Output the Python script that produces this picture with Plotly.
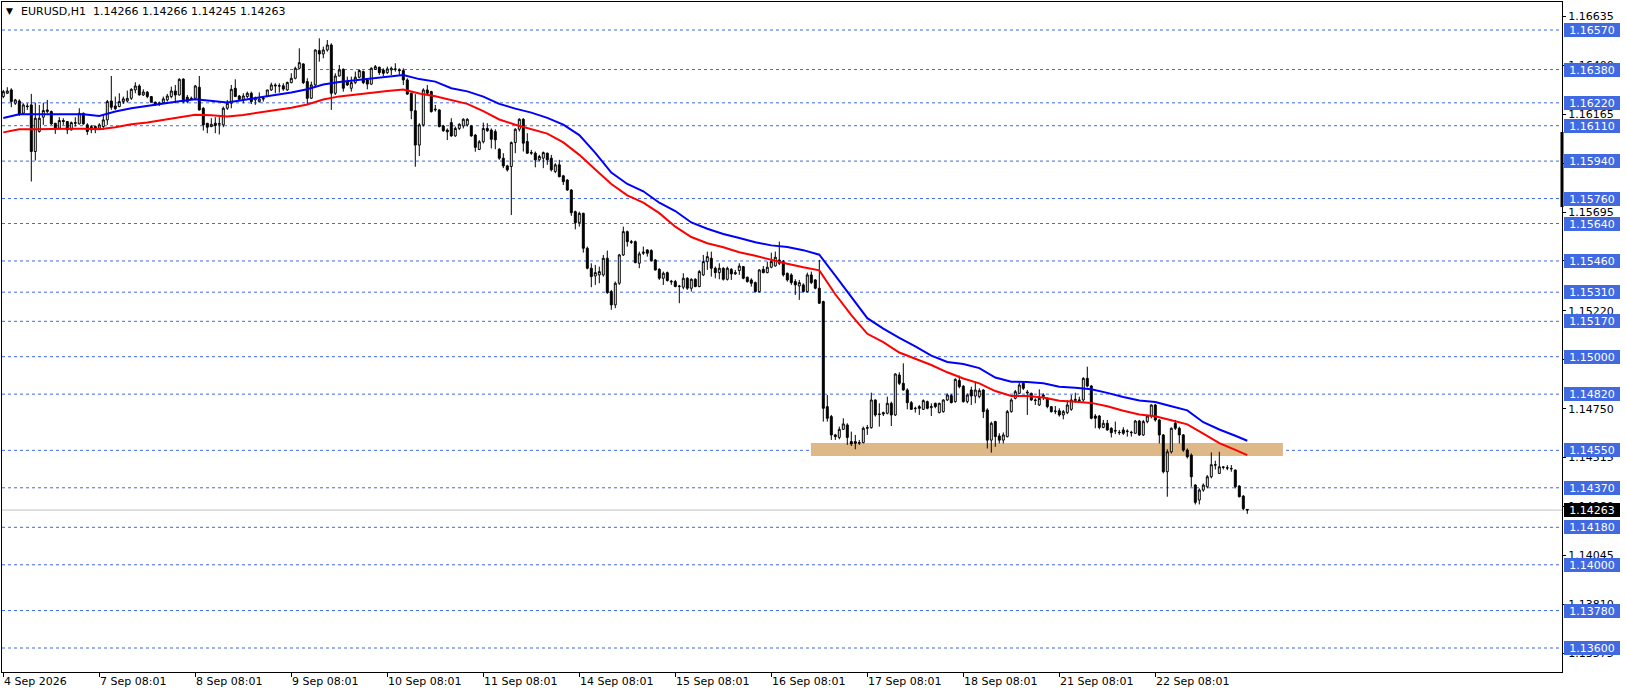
import plotly.graph_objects as go

# ---------------- data (EURUSD H1) ----------------
open_prices = [
    1.16250, 1.16266, 1.16282, 1.16218, 1.16229, 1.16170, 1.16205, 1.16210, 1.15986, 1.16082, 1.16151, 1.16178,
    1.16178, 1.16122, 1.16098, 1.16135, 1.16130, 1.16090, 1.16125, 1.16119, 1.16170, 1.16114, 1.16090, 1.16106,
    1.16098, 1.16106, 1.16138, 1.16229, 1.16205, 1.16202, 1.16226, 1.16229, 1.16242, 1.16282, 1.16301, 1.16258,
    1.16271, 1.16250, 1.16223, 1.16215, 1.16221, 1.16234, 1.16250, 1.16277, 1.16258, 1.16334, 1.16247, 1.16242,
    1.16242, 1.16295, 1.16194, 1.16122, 1.16106, 1.16122, 1.16117, 1.16114, 1.16194, 1.16218, 1.16290, 1.16253,
    1.16237, 1.16250, 1.16266, 1.16234, 1.16226, 1.16238, 1.16250, 1.16282, 1.16306, 1.16302, 1.16302, 1.16282,
    1.16317, 1.16338, 1.16386, 1.16407, 1.16322, 1.16242, 1.16306, 1.16471, 1.16455, 1.16474, 1.16498, 1.16266,
    1.16349, 1.16381, 1.16322, 1.16290, 1.16317, 1.16343, 1.16370, 1.16330, 1.16310, 1.16381, 1.16391, 1.16378,
    1.16365, 1.16378, 1.16383, 1.16378, 1.16375, 1.16330, 1.16266, 1.16182, 1.16017, 1.16114, 1.16282, 1.16274,
    1.16186, 1.16186, 1.16109, 1.16089, 1.16125, 1.16061, 1.16097, 1.16109, 1.16114, 1.16109, 1.16065, 1.15996,
    1.16033, 1.16097, 1.16089, 1.16082, 1.15997, 1.15954, 1.15917, 1.15914, 1.16029, 1.16093, 1.16141, 1.16034,
    1.15978, 1.15978, 1.15946, 1.15954, 1.15978, 1.15954, 1.15890, 1.15922, 1.15869, 1.15849, 1.15801, 1.15697,
    1.15644, 1.15689, 1.15521, 1.15425, 1.15388, 1.15393, 1.15393, 1.15473, 1.15313, 1.15249, 1.15353, 1.15489,
    1.15601, 1.15553, 1.15553, 1.15449, 1.15497, 1.15513, 1.15510, 1.15465, 1.15420, 1.15377, 1.15404, 1.15363,
    1.15361, 1.15337, 1.15334, 1.15377, 1.15329, 1.15372, 1.15337, 1.15393, 1.15457, 1.15473, 1.15425, 1.15404,
    1.15425, 1.15372, 1.15420, 1.15398, 1.15414, 1.15433, 1.15382, 1.15369, 1.15356, 1.15313, 1.15420, 1.15404,
    1.15430, 1.15436, 1.15465, 1.15457, 1.15401, 1.15393, 1.15361, 1.15340, 1.15345, 1.15313, 1.15393, 1.15369,
    1.15329, 1.15265, 1.14760, 1.14712, 1.14624, 1.14612, 1.14651, 1.14672, 1.14592, 1.14592, 1.14584, 1.14587,
    1.14656, 1.14659, 1.14792, 1.14725, 1.14731, 1.14728, 1.14776, 1.14720, 1.14912, 1.14872, 1.14840, 1.14779,
    1.14750, 1.14760, 1.14747, 1.14784, 1.14755, 1.14776, 1.14731, 1.14736, 1.14792, 1.14813, 1.14784, 1.14885,
    1.14858, 1.14784, 1.14840, 1.14811, 1.14808, 1.14840, 1.14744, 1.14599, 1.14688, 1.14619, 1.14599, 1.14616,
    1.14736, 1.14800, 1.14824, 1.14872, 1.14830, 1.14824, 1.14792, 1.14768, 1.14808, 1.14800, 1.14760, 1.14736,
    1.14740, 1.14720, 1.14731, 1.14747, 1.14789, 1.14792, 1.14792, 1.14896, 1.14859, 1.14715, 1.14715, 1.14660,
    1.14680, 1.14656, 1.14645, 1.14637, 1.14648, 1.14640, 1.14637, 1.14632, 1.14691, 1.14624, 1.14688, 1.14715,
    1.14768, 1.14696, 1.14624, 1.14447, 1.14543, 1.14680, 1.14656, 1.14624, 1.14551, 1.14527, 1.14383, 1.14311,
    1.14359, 1.14375, 1.14423, 1.14481, 1.14439, 1.14468, 1.14466, 1.14463, 1.14455, 1.14378, 1.14330, 1.14266,
]
high_prices = [
    1.16282, 1.16295, 1.16290, 1.16239, 1.16237, 1.16218, 1.16218, 1.16263, 1.16221, 1.16210, 1.16221, 1.16234,
    1.16183, 1.16122, 1.16151, 1.16146, 1.16130, 1.16130, 1.16151, 1.16194, 1.16173, 1.16122, 1.16114, 1.16111,
    1.16122, 1.16162, 1.16234, 1.16349, 1.16250, 1.16266, 1.16250, 1.16279, 1.16290, 1.16319, 1.16309, 1.16285,
    1.16277, 1.16253, 1.16226, 1.16226, 1.16250, 1.16263, 1.16298, 1.16306, 1.16338, 1.16338, 1.16258, 1.16250,
    1.16306, 1.16349, 1.16199, 1.16122, 1.16146, 1.16151, 1.16151, 1.16202, 1.16234, 1.16306, 1.16333, 1.16258,
    1.16266, 1.16274, 1.16274, 1.16250, 1.16270, 1.16250, 1.16282, 1.16317, 1.16314, 1.16314, 1.16314, 1.16322,
    1.16362, 1.16394, 1.16482, 1.16410, 1.16338, 1.16322, 1.16477, 1.16530, 1.16490, 1.16522, 1.16506, 1.16362,
    1.16402, 1.16386, 1.16346, 1.16346, 1.16370, 1.16381, 1.16375, 1.16338, 1.16391, 1.16402, 1.16394, 1.16386,
    1.16394, 1.16394, 1.16410, 1.16386, 1.16386, 1.16338, 1.16269, 1.16262, 1.16122, 1.16290, 1.16306, 1.16278,
    1.16210, 1.16189, 1.16114, 1.16097, 1.16146, 1.16106, 1.16122, 1.16146, 1.16146, 1.16114, 1.16070, 1.16041,
    1.16125, 1.16122, 1.16097, 1.16093, 1.16002, 1.15978, 1.15922, 1.16034, 1.16098, 1.16146, 1.16146, 1.16074,
    1.15994, 1.15986, 1.15970, 1.15986, 1.15981, 1.15970, 1.15930, 1.15946, 1.15874, 1.15853, 1.15805, 1.15702,
    1.15697, 1.15692, 1.15529, 1.15449, 1.15441, 1.15433, 1.15489, 1.15510, 1.15321, 1.15361, 1.15494, 1.15625,
    1.15606, 1.15561, 1.15558, 1.15505, 1.15529, 1.15516, 1.15516, 1.15468, 1.15425, 1.15409, 1.15409, 1.15369,
    1.15369, 1.15345, 1.15401, 1.15382, 1.15377, 1.15377, 1.15417, 1.15489, 1.15505, 1.15505, 1.15433, 1.15449,
    1.15430, 1.15433, 1.15425, 1.15417, 1.15449, 1.15436, 1.15385, 1.15377, 1.15361, 1.15420, 1.15436, 1.15457,
    1.15500, 1.15505, 1.15553, 1.15465, 1.15404, 1.15401, 1.15372, 1.15369, 1.15353, 1.15404, 1.15409, 1.15372,
    1.15465, 1.15269, 1.14816, 1.14720, 1.14629, 1.14664, 1.14704, 1.14680, 1.14640, 1.14624, 1.14600, 1.14664,
    1.14672, 1.14827, 1.14795, 1.14776, 1.14736, 1.14808, 1.14784, 1.14920, 1.14925, 1.14968, 1.14848, 1.14787,
    1.14760, 1.14768, 1.14795, 1.14789, 1.14776, 1.14779, 1.14779, 1.14795, 1.14824, 1.14821, 1.14896, 1.14909,
    1.14864, 1.14824, 1.14856, 1.14880, 1.14848, 1.14843, 1.14752, 1.14688, 1.14692, 1.14632, 1.14636, 1.14744,
    1.14800, 1.14840, 1.14875, 1.14880, 1.14840, 1.14827, 1.14800, 1.14843, 1.14824, 1.14804, 1.14763, 1.14763,
    1.14752, 1.14744, 1.14792, 1.14816, 1.14827, 1.14808, 1.14901, 1.14952, 1.14864, 1.14724, 1.14720, 1.14696,
    1.14696, 1.14661, 1.14688, 1.14648, 1.14661, 1.14651, 1.14644, 1.14696, 1.14696, 1.14696, 1.14720, 1.14771,
    1.14773, 1.14699, 1.14628, 1.14555, 1.14660, 1.14696, 1.14664, 1.14628, 1.14559, 1.14535, 1.14388, 1.14367,
    1.14391, 1.14431, 1.14540, 1.14500, 1.14543, 1.14474, 1.14479, 1.14479, 1.14458, 1.14383, 1.14335, 1.14266,
]
low_prices = [
    1.16242, 1.16263, 1.16199, 1.16210, 1.16157, 1.16162, 1.16186, 1.15842, 1.15943, 1.16077, 1.16114, 1.16170,
    1.16114, 1.16071, 1.16093, 1.16114, 1.16070, 1.16087, 1.16106, 1.16116, 1.16114, 1.16066, 1.16074, 1.16074,
    1.16090, 1.16090, 1.16114, 1.16186, 1.16186, 1.16199, 1.16215, 1.16221, 1.16234, 1.16266, 1.16255, 1.16253,
    1.16242, 1.16221, 1.16205, 1.16205, 1.16215, 1.16226, 1.16242, 1.16218, 1.16255, 1.16218, 1.16218, 1.16234,
    1.16234, 1.16183, 1.16087, 1.16074, 1.16103, 1.16074, 1.16068, 1.16103, 1.16186, 1.16194, 1.16250, 1.16231,
    1.16218, 1.16242, 1.16214, 1.16210, 1.16221, 1.16226, 1.16250, 1.16277, 1.16266, 1.16269, 1.16278, 1.16278,
    1.16314, 1.16333, 1.16381, 1.16310, 1.16214, 1.16238, 1.16298, 1.16418, 1.16434, 1.16466, 1.16186, 1.16258,
    1.16346, 1.16274, 1.16301, 1.16274, 1.16310, 1.16338, 1.16310, 1.16285, 1.16306, 1.16378, 1.16354, 1.16349,
    1.16359, 1.16354, 1.16370, 1.16354, 1.16306, 1.16258, 1.16141, 1.15913, 1.15964, 1.16106, 1.16258, 1.16173,
    1.16178, 1.16102, 1.16081, 1.16041, 1.16057, 1.16057, 1.16089, 1.16097, 1.16106, 1.16057, 1.15985, 1.15993,
    1.16025, 1.16081, 1.16001, 1.15997, 1.15946, 1.15906, 1.15890, 1.15681, 1.15978, 1.16082, 1.15986, 1.15974,
    1.15970, 1.15910, 1.15938, 1.15906, 1.15922, 1.15890, 1.15882, 1.15862, 1.15825, 1.15797, 1.15677, 1.15612,
    1.15625, 1.15500, 1.15420, 1.15334, 1.15345, 1.15353, 1.15385, 1.15302, 1.15225, 1.15233, 1.15345, 1.15484,
    1.15529, 1.15542, 1.15449, 1.15425, 1.15489, 1.15481, 1.15457, 1.15414, 1.15369, 1.15345, 1.15361, 1.15345,
    1.15334, 1.15257, 1.15324, 1.15321, 1.15313, 1.15334, 1.15334, 1.15388, 1.15417, 1.15385, 1.15377, 1.15372,
    1.15366, 1.15366, 1.15369, 1.15393, 1.15393, 1.15372, 1.15356, 1.15337, 1.15308, 1.15308, 1.15401, 1.15401,
    1.15425, 1.15433, 1.15440, 1.15385, 1.15361, 1.15345, 1.15297, 1.15273, 1.15308, 1.15308, 1.15349, 1.15324,
    1.15253, 1.14688, 1.14688, 1.14600, 1.14600, 1.14603, 1.14648, 1.14576, 1.14571, 1.14555, 1.14576, 1.14584,
    1.14624, 1.14654, 1.14712, 1.14664, 1.14715, 1.14723, 1.14667, 1.14715, 1.14864, 1.14837, 1.14747, 1.14744,
    1.14731, 1.14720, 1.14744, 1.14747, 1.14715, 1.14752, 1.14728, 1.14731, 1.14787, 1.14776, 1.14779, 1.14848,
    1.14779, 1.14776, 1.14768, 1.14776, 1.14800, 1.14705, 1.14559, 1.14539, 1.14567, 1.14583, 1.14583, 1.14612,
    1.14731, 1.14795, 1.14820, 1.14840, 1.14720, 1.14788, 1.14768, 1.14763, 1.14792, 1.14752, 1.14731, 1.14724,
    1.14712, 1.14699, 1.14724, 1.14740, 1.14779, 1.14784, 1.14784, 1.14853, 1.14699, 1.14656, 1.14651, 1.14656,
    1.14644, 1.14612, 1.14628, 1.14624, 1.14624, 1.14616, 1.14616, 1.14629, 1.14619, 1.14619, 1.14680, 1.14704,
    1.14688, 1.14583, 1.14439, 1.14327, 1.14535, 1.14648, 1.14583, 1.14543, 1.14511, 1.14375, 1.14290, 1.14290,
    1.14351, 1.14367, 1.14415, 1.14458, 1.14436, 1.14458, 1.14455, 1.14447, 1.14367, 1.14324, 1.14262, 1.14245,
]
close_prices = [
    1.16274, 1.16277, 1.16226, 1.16234, 1.16167, 1.16210, 1.16202, 1.15986, 1.16146, 1.16146, 1.16183, 1.16186,
    1.16119, 1.16098, 1.16135, 1.16130, 1.16090, 1.16125, 1.16122, 1.16170, 1.16119, 1.16082, 1.16106, 1.16093,
    1.16114, 1.16138, 1.16226, 1.16199, 1.16192, 1.16226, 1.16239, 1.16242, 1.16285, 1.16301, 1.16258, 1.16272,
    1.16250, 1.16223, 1.16215, 1.16218, 1.16239, 1.16253, 1.16277, 1.16258, 1.16333, 1.16226, 1.16226, 1.16239,
    1.16301, 1.16186, 1.16114, 1.16103, 1.16117, 1.16111, 1.16120, 1.16194, 1.16218, 1.16285, 1.16250, 1.16237,
    1.16253, 1.16266, 1.16226, 1.16242, 1.16238, 1.16242, 1.16282, 1.16306, 1.16302, 1.16301, 1.16286, 1.16318,
    1.16338, 1.16386, 1.16413, 1.16317, 1.16242, 1.16306, 1.16474, 1.16455, 1.16474, 1.16498, 1.16266, 1.16349,
    1.16378, 1.16290, 1.16306, 1.16317, 1.16343, 1.16375, 1.16317, 1.16310, 1.16386, 1.16394, 1.16365, 1.16362,
    1.16383, 1.16386, 1.16381, 1.16375, 1.16330, 1.16262, 1.16182, 1.16017, 1.16114, 1.16282, 1.16266, 1.16178,
    1.16189, 1.16106, 1.16086, 1.16081, 1.16061, 1.16097, 1.16117, 1.16141, 1.16141, 1.16061, 1.16006, 1.16033,
    1.16097, 1.16086, 1.16045, 1.16042, 1.15954, 1.15917, 1.15898, 1.16029, 1.16093, 1.16141, 1.16026, 1.15978,
    1.15981, 1.15946, 1.15962, 1.15981, 1.15946, 1.15898, 1.15922, 1.15865, 1.15841, 1.15801, 1.15692, 1.15644,
    1.15689, 1.15521, 1.15425, 1.15385, 1.15404, 1.15409, 1.15473, 1.15308, 1.15249, 1.15353, 1.15489, 1.15601,
    1.15553, 1.15550, 1.15452, 1.15494, 1.15502, 1.15497, 1.15462, 1.15417, 1.15377, 1.15401, 1.15366, 1.15360,
    1.15337, 1.15339, 1.15377, 1.15329, 1.15372, 1.15337, 1.15409, 1.15457, 1.15481, 1.15425, 1.15404, 1.15425,
    1.15372, 1.15425, 1.15398, 1.15404, 1.15436, 1.15377, 1.15361, 1.15353, 1.15313, 1.15417, 1.15404, 1.15430,
    1.15457, 1.15478, 1.15449, 1.15393, 1.15369, 1.15356, 1.15345, 1.15356, 1.15313, 1.15393, 1.15356, 1.15329,
    1.15257, 1.14752, 1.14704, 1.14624, 1.14616, 1.14651, 1.14677, 1.14612, 1.14581, 1.14584, 1.14587, 1.14656,
    1.14659, 1.14792, 1.14720, 1.14722, 1.14725, 1.14776, 1.14720, 1.14917, 1.14872, 1.14840, 1.14779, 1.14747,
    1.14752, 1.14752, 1.14789, 1.14752, 1.14760, 1.14760, 1.14776, 1.14792, 1.14816, 1.14779, 1.14891, 1.14856,
    1.14784, 1.14816, 1.14811, 1.14840, 1.14837, 1.14736, 1.14599, 1.14680, 1.14616, 1.14599, 1.14624, 1.14736,
    1.14792, 1.14832, 1.14864, 1.14848, 1.14827, 1.14792, 1.14790, 1.14800, 1.14816, 1.14760, 1.14736, 1.14739,
    1.14720, 1.14736, 1.14768, 1.14792, 1.14795, 1.14790, 1.14896, 1.14859, 1.14704, 1.14704, 1.14660, 1.14680,
    1.14648, 1.14635, 1.14643, 1.14635, 1.14632, 1.14642, 1.14635, 1.14691, 1.14624, 1.14688, 1.14715, 1.14768,
    1.14696, 1.14624, 1.14447, 1.14543, 1.14656, 1.14656, 1.14624, 1.14551, 1.14519, 1.14423, 1.14300, 1.14359,
    1.14383, 1.14423, 1.14481, 1.14479, 1.14471, 1.14470, 1.14465, 1.14461, 1.14375, 1.14327, 1.14270, 1.14263,
]

# moving averages, read every 4th bar (last point = last bar)
ma_blue = [
    1.16147, 1.16165, 1.16165, 1.16165, 1.16165, 1.16165, 1.16157, 1.16178, 1.16194, 1.16206, 1.16218, 1.16228,
    1.16237, 1.16228, 1.16222, 1.16234, 1.16245, 1.16256, 1.16270, 1.16285, 1.16308, 1.16320, 1.16329, 1.16336,
    1.16348, 1.16354, 1.16334, 1.16322, 1.16290, 1.16275, 1.16250, 1.16215, 1.16192, 1.16173, 1.16148, 1.16115,
    1.16065, 1.15980, 1.15885, 1.15830, 1.15795, 1.15740, 1.15700, 1.15645, 1.15615, 1.15590, 1.15570, 1.15550,
    1.15535, 1.15527, 1.15512, 1.15490, 1.15390, 1.15290, 1.15185, 1.15135, 1.15090, 1.15050, 1.15005, 1.14975,
    1.14965, 1.14945, 1.14900, 1.14880, 1.14878, 1.14872, 1.14856, 1.14851, 1.14844, 1.14826, 1.14806, 1.14790,
    1.14782, 1.14762, 1.14742, 1.14685, 1.14650, 1.14620, 1.14596,
]
ma_red = [
    1.16078, 1.16093, 1.16093, 1.16096, 1.16096, 1.16096, 1.16093, 1.16103, 1.16117, 1.16126, 1.16138, 1.16150,
    1.16163, 1.16160, 1.16154, 1.16162, 1.16173, 1.16184, 1.16196, 1.16212, 1.16236, 1.16251, 1.16260, 1.16270,
    1.16277, 1.16284, 1.16265, 1.16252, 1.16234, 1.16215, 1.16180, 1.16140, 1.16115, 1.16095, 1.16072, 1.16030,
    1.15970, 1.15900, 1.15830, 1.15775, 1.15740, 1.15690, 1.15625, 1.15575, 1.15545, 1.15526, 1.15502, 1.15485,
    1.15465, 1.15447, 1.15430, 1.15415, 1.15300, 1.15200, 1.15110, 1.15070, 1.15020, 1.14990, 1.14960, 1.14925,
    1.14895, 1.14872, 1.14835, 1.14811, 1.14811, 1.14804, 1.14788, 1.14784, 1.14778, 1.14762, 1.14740, 1.14722,
    1.14714, 1.14695, 1.14675, 1.14630, 1.14585, 1.14552, 1.14527,
]

level_prices = [1.16570, 1.16380, 1.16220, 1.16110, 1.15940, 1.15760, 1.15640, 1.15460, 1.15310,
                1.15170, 1.15000, 1.14820, 1.14550, 1.14370, 1.14180, 1.14000, 1.13780, 1.13600]
level_labels = ["%.5f" % p for p in level_prices]

axis_ticks = [1.16635, 1.16400, 1.16165, 1.15930, 1.15695, 1.15460, 1.15220, 1.14985,
              1.14750, 1.14515, 1.14280, 1.14045, 1.13810, 1.13575]
axis_tick_text = ["%.5f" % p for p in axis_ticks]

date_labels = ["4 Sep 2026", "7 Sep 08:01", "8 Sep 08:01", "9 Sep 08:01", "10 Sep 08:01",
               "11 Sep 08:01", "14 Sep 08:01", "15 Sep 08:01", "16 Sep 08:01", "17 Sep 08:01",
               "18 Sep 08:01", "21 Sep 08:01", "22 Sep 08:01"]
bars_per_day = 24

current_price = 1.14263
zone_low, zone_high = 1.14523, 1.14585
zone_start_bar, zone_end_bar = 201.9, 319.9
scale_marker_low, scale_marker_high = 1.15719, 1.16080

title_symbol = "EURUSD,H1"
title_ohlc = "1.14266 1.14266 1.14245 1.14263"

# ---------------- figure ----------------
FONT = "DejaVu Sans"
BLUE_LVL = "#4169E1"

bars = list(range(len(close_prices)))
ma_bars = list(range(0, len(close_prices) - 3, 4)) + [len(close_prices) - 1]
date_ticks = [bars_per_day * k for k in range(len(date_labels))]

fig = go.Figure()

fig.add_trace(go.Candlestick(
    x=bars, open=open_prices, high=high_prices, low=low_prices, close=close_prices,
    increasing=dict(fillcolor="white", line=dict(color="black", width=1)),
    decreasing=dict(fillcolor="black", line=dict(color="black", width=1)),
    whiskerwidth=0, showlegend=False, hoverinfo="skip",
))
fig.add_trace(go.Scatter(x=ma_bars, y=ma_blue, mode="lines",
                         line=dict(color="#0000FF", width=2), showlegend=False, hoverinfo="skip"))
fig.add_trace(go.Scatter(x=ma_bars, y=ma_red, mode="lines",
                         line=dict(color="#FF0000", width=2), showlegend=False, hoverinfo="skip"))

shapes = []
shapes.append(dict(type="rect", xref="x", yref="y", x0=zone_start_bar, x1=zone_end_bar,
                   y0=zone_low, y1=zone_high, fillcolor="#DEB887", line=dict(width=0), layer="below"))
for p in level_prices:
    shapes.append(dict(type="line", xref="paper", yref="y", x0=0, x1=1, y0=p, y1=p,
                       line=dict(color=BLUE_LVL, width=1, dash="3px,3px"), layer="below"))
shapes.append(dict(type="line", xref="paper", yref="y", x0=0, x1=1, y0=current_price, y1=current_price,
                   line=dict(color="#C0C0C0", width=1), layer="below"))
shapes.append(dict(type="line", xref="paper", yref="y", x0=1, x1=1,
                   y0=scale_marker_low, y1=scale_marker_high,
                   line=dict(color="black", width=3), layer="above"))

annotations = []
for p, t in zip(level_prices, level_labels):
    annotations.append(dict(xref="paper", yref="y", x=1, y=p, xanchor="left", yanchor="middle",
                            xshift=2, text=t, showarrow=False, bgcolor=BLUE_LVL,
                            font=dict(family=FONT, size=11, color="white"),
                            width=54, height=12, borderpad=1, borderwidth=0, align="center"))
annotations.append(dict(xref="paper", yref="y", x=1, y=current_price, xanchor="left", yanchor="middle",
                        xshift=2, text="%.5f" % current_price, showarrow=False, bgcolor="black",
                        font=dict(family=FONT, size=11, color="white"),
                        width=54, height=12, borderpad=1, borderwidth=0, align="center"))
for xb, t in zip(date_ticks, date_labels):
    annotations.append(dict(xref="x", yref="paper", x=xb, y=0, xanchor="left", yanchor="top",
                            xshift=1, yshift=-3, text=t, showarrow=False,
                            font=dict(family=FONT, size=11, color="black"),
                            borderpad=0, borderwidth=0))
annotations.append(dict(xref="paper", yref="paper", x=0, y=1, xanchor="left", yanchor="top",
                        xshift=4, yshift=-4, text="▼", showarrow=False,
                        font=dict(family=FONT, size=9, color="black"), borderpad=0, borderwidth=0))
annotations.append(dict(xref="paper", yref="paper", x=0, y=1, xanchor="left", yanchor="top",
                        xshift=19, yshift=-3, text=title_symbol, showarrow=False,
                        font=dict(family=FONT, size=11, color="black"), borderpad=0, borderwidth=0))
annotations.append(dict(xref="paper", yref="paper", x=0, y=1, xanchor="left", yanchor="top",
                        xshift=91, yshift=-3, text=title_ohlc, showarrow=False,
                        font=dict(family=FONT, size=11, color="black"), borderpad=0, borderwidth=0))

fig.update_layout(
    width=1626, height=696,
    margin=dict(l=2, r=64, t=2, b=24),
    paper_bgcolor="white", plot_bgcolor="white",
    font=dict(family=FONT, size=11, color="black"),
    shapes=shapes, annotations=annotations,
    showlegend=False, boxgap=0.3,
    xaxis=dict(range=[-0.325, 389.675], showgrid=False, zeroline=False,
               showline=True, linecolor="black", linewidth=1, mirror=True,
               ticks="outside", ticklen=4, tickcolor="black", tickvals=date_ticks,
               showticklabels=False, rangeslider=dict(visible=False), fixedrange=True),
    yaxis=dict(range=[1.134847, 1.167046], side="right", showgrid=False, zeroline=False,
               showline=True, linecolor="black", linewidth=1, mirror=True,
               ticks="outside", ticklen=3, tickcolor="black",
               tickvals=axis_ticks, ticktext=axis_tick_text,
               tickfont=dict(family=FONT, size=11, color="black"), fixedrange=True),
)

fig.write_html("out.html", config={"displayModeBar": False},
               post_script="document.body.style.margin='0';document.body.style.overflow='hidden';")
